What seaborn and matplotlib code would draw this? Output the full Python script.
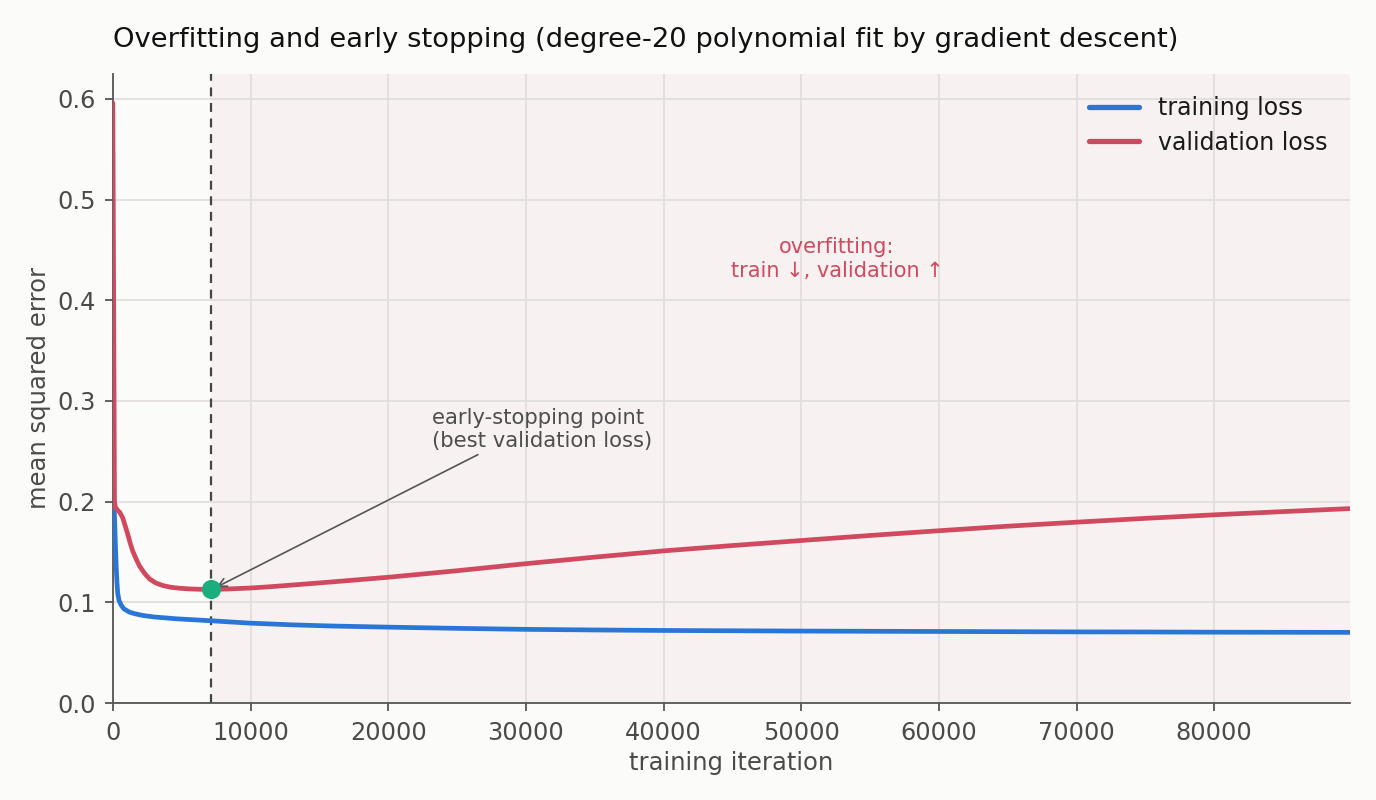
import numpy as np
import pandas as pd
import matplotlib
matplotlib.use("Agg")
import matplotlib.pyplot as plt
import seaborn as sns

# ---- data ----
train_iter = [0, 116, 180, 240, 300, 356, 450, 600, 800, 1206, 1600, 2174, 3000, 4600,
              7166, 9930, 13000, 16000, 19980, 25000, 30000, 35000, 40000, 45000, 50000,
              55000, 60000, 65000, 70000, 75000, 80000, 85000, 89850]
train_loss = [0.197, 0.188, 0.160, 0.137, 0.120, 0.109, 0.102, 0.0975, 0.0937, 0.0904,
              0.0888, 0.0871, 0.0856, 0.0838, 0.0818, 0.0795, 0.0778, 0.0766, 0.0755,
              0.0743, 0.0733, 0.0727, 0.0722, 0.0719, 0.0716, 0.0714, 0.0712, 0.0710,
              0.0708, 0.0707, 0.0705, 0.0704, 0.0703]
val_iter = [0, 60, 120, 200, 356, 500, 720, 900, 1083, 1260, 1446, 1700, 1933, 2300, 2660,
            3100, 3630, 4200, 4840, 5500, 6290, 7150, 8200, 9930, 11500, 13500, 16000,
            19980, 25000, 30000, 35000, 40000, 45000, 50000, 55000, 60000, 65000, 70000,
            75000, 80000, 85000, 89850]
val_loss = [0.596, 0.40, 0.200, 0.194, 0.1915, 0.1895, 0.184, 0.176, 0.1677, 0.159, 0.151,
            0.143, 0.1363, 0.129, 0.1234, 0.1195, 0.1168, 0.1151, 0.1141, 0.1135, 0.1131,
            0.1130, 0.1133, 0.1143, 0.1157, 0.1178, 0.1205, 0.1250, 0.1315, 0.1385,
            0.1450, 0.1512, 0.1565, 0.1615, 0.1665, 0.1712, 0.1757, 0.1797, 0.1835,
            0.1870, 0.1902, 0.1932]
best_iter = 7150
best_val = 0.1130

df = pd.DataFrame({
    "iteration": train_iter + val_iter,
    "loss": train_loss + val_loss,
    "series": ["training loss"] * len(train_iter) + ["validation loss"] * len(val_iter),
})

BG = "#fbfbfa"
BLUE = "#2a76d6"
RED = "#d0495e"
GREEN = "#1aae7c"
GRAY = "#555555"
TXT = "#4a4a4a"

sns.set_theme(style="whitegrid")
plt.rcParams["font.family"] = ["DejaVu Sans"]

fig, ax = plt.subplots(figsize=(13.76, 8), dpi=100)
fig.patch.set_facecolor(BG)
ax.set_facecolor(BG)

ax.axvspan(best_iter, 89850, color="#f7f1f1", lw=0, zorder=0)

sns.lineplot(data=df, x="iteration", y="loss", hue="series",
             palette={"training loss": BLUE, "validation loss": RED},
             linewidth=3.4, ax=ax, zorder=3, sort=True)

ax.axvline(best_iter, color="#444444", ls=(0, (4, 3)), lw=1.6, zorder=2)
ax.scatter([best_iter], [best_val], s=190, color=GREEN, zorder=5, linewidths=0)

ax.annotate("early-stopping point\n(best validation loss)",
            xy=(best_iter + 200, best_val + 0.001), xytext=(23150, 0.250),
            fontsize=15.2, color="#4d4d4d", ha="left", va="bottom",
            arrowprops=dict(arrowstyle="->", color=GRAY, lw=1.2,
                            shrinkA=0, shrinkB=2, relpos=(0.24, 0.0)))

ax.text(52600, 0.441, "overfitting:\ntrain ↓, validation ↑", color=RED,
        fontsize=15, ha="center", va="center")

ax.set_xlim(0, 89850)
ax.set_ylim(0, 0.625)
ax.set_xticks([0, 10000, 20000, 30000, 40000, 50000, 60000, 70000, 80000])
ax.set_yticks([0.0, 0.1, 0.2, 0.3, 0.4, 0.5, 0.6])
ax.set_yticklabels(["0.0", "0.1", "0.2", "0.3", "0.4", "0.5", "0.6"])

ax.grid(True, color="#e2dede", lw=1.3)
for s in ["top", "right"]:
    ax.spines[s].set_visible(False)
for s in ["left", "bottom"]:
    ax.spines[s].set_color(GRAY)
    ax.spines[s].set_linewidth(1.3)
ax.tick_params(axis="both", colors=GRAY, labelsize=17.3, length=6, width=1.3,
               bottom=True, left=True, labelcolor=TXT)
ax.tick_params(axis="x", pad=6.5)
ax.tick_params(axis="y", pad=6)

ax.set_xlabel("training iteration", fontsize=17.5, color=TXT, labelpad=4.5)
ax.set_ylabel("mean squared error", fontsize=17.5, color=TXT, labelpad=5)
ax.set_title("Overfitting and early stopping (degree-20 polynomial fit by gradient descent)",
             fontsize=19.7, loc="left", pad=19, color="#111111")

leg = ax.legend(loc="upper right", frameon=False, fontsize=17, handlelength=2.1,
                borderaxespad=0.55, labelspacing=0.45)
for t in leg.get_texts():
    t.set_color("#1a1a1a")
for line in leg.get_lines():
    line.set_linewidth(3.8)

fig.subplots_adjust(left=0.082, right=0.981, top=0.908, bottom=0.121)
fig.savefig("out.png", dpi=100, facecolor=BG)
